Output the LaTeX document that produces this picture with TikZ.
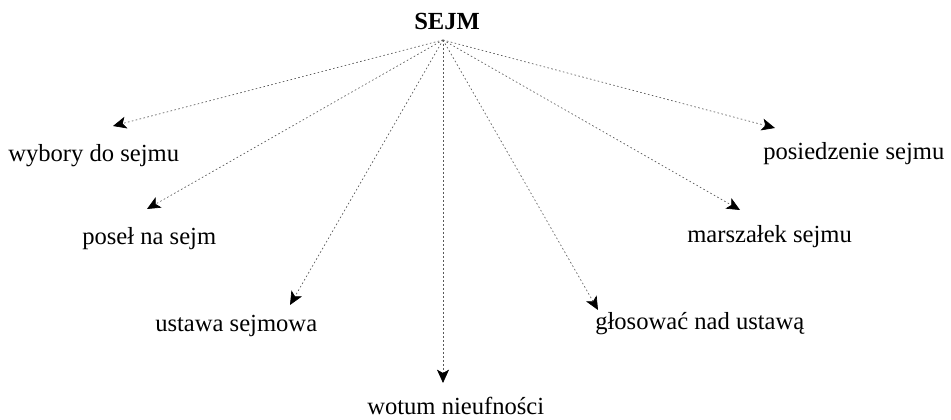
\documentclass[tikz,border=0pt]{standalone}
\usepackage{fontspec}
\setmainfont{Liberation Serif}
\usetikzlibrary{arrows.meta}
\begin{document}
\begin{tikzpicture}[x=0.75pt,y=-0.75pt,
  lbl/.style={anchor=base west,inner sep=0pt,font=\fontsize{18.45}{22}\selectfont},
  conn/.style={draw=black!65,line width=0.5pt,dash pattern=on 1.2pt off 1.8pt,
    -{Stealth[length=10pt,width=9pt,inset=2.5pt,fill=black,color=black]}}]
\useasboundingbox (0,0) rectangle (951,420);
\node[lbl,font=\fontsize{18.45}{22}\selectfont\bfseries] (sejm) at (414,30) {SEJM};
\coordinate (o) at (443,40);
\node[lbl] (wyb) at (8,162) {wybory do sejmu};
\node[lbl] (pos) at (82,245) {poseł na sejm};
\node[lbl] (ust) at (155,332) {ustawa sejmowa};
\node[lbl] (wot) at (367,415) {wotum nieufności};
\node[lbl] (glo) at (595,330) {głosować nad ustawą};
\node[lbl] (mar) at (687,243) {marszałek sejmu};
\node[lbl] (pie) at (763,160) {posiedzenie sejmu};
\coordinate (twyb) at (113,126);
\coordinate (tpos) at (147,209);
\coordinate (tust) at (290,305);
\coordinate (twot) at (443,383);
\coordinate (tglo) at (598,310);
\coordinate (tmar) at (740,210);
\coordinate (tpie) at (775,128);
\foreach \t in {twyb,tpos,tust,twot,tglo,tmar,tpie}
  \draw[conn] (o) -- (\t);
\end{tikzpicture}
\end{document}
